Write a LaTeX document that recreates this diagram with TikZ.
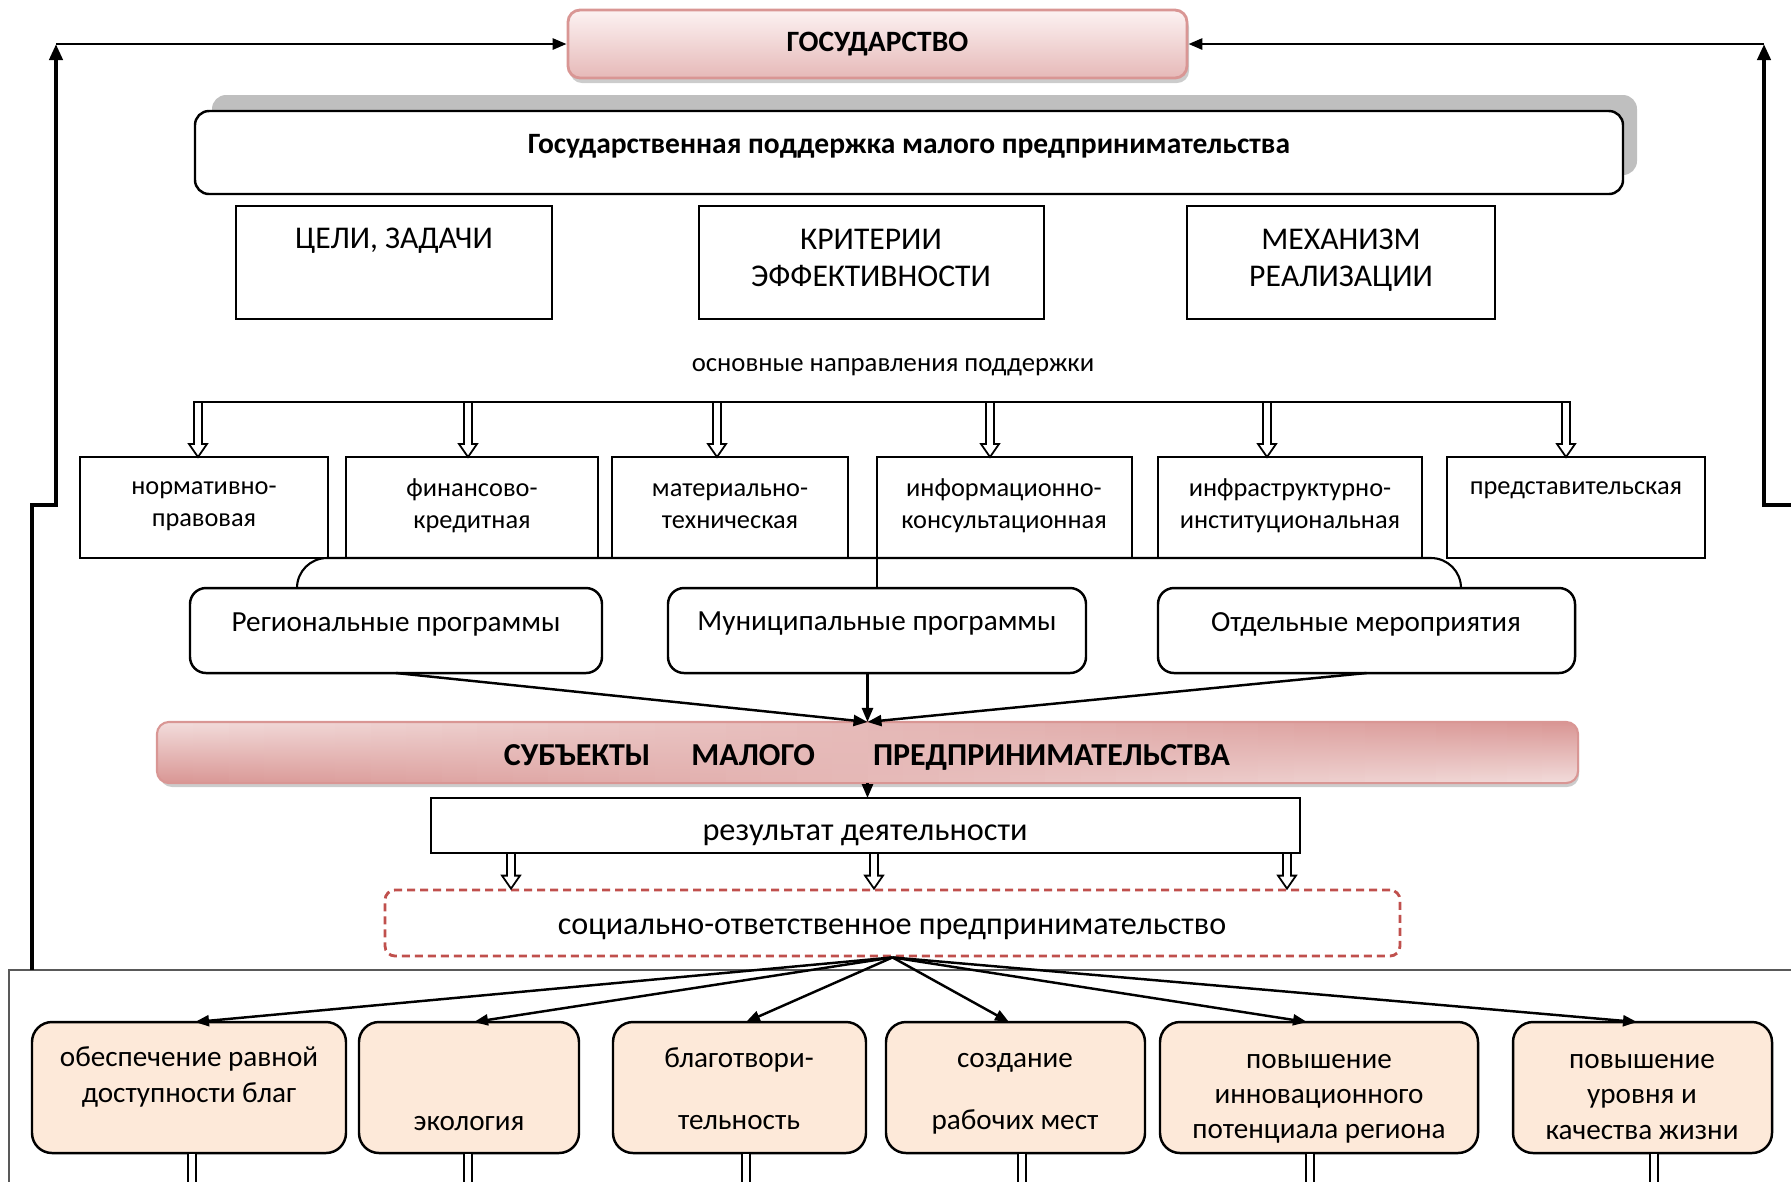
\documentclass[tikz,border=0pt]{standalone}
\usepackage{fontspec}
\setmainfont{Carlito}
\usetikzlibrary{positioning}
\usetikzlibrary{calc}
\usetikzlibrary{arrows.meta}
\usetikzlibrary{shadows}

\definecolor{rosedark}{HTML}{D99694}
\definecolor{roselight}{HTML}{F2DCDB}
\definecolor{statetop}{HTML}{FCF2F2}
\definecolor{statebot}{HTML}{E6B9B8}
\definecolor{peach}{HTML}{FDE9D9}
\definecolor{dashred}{HTML}{C0504D}
\definecolor{shadowgray}{HTML}{BFBFBF}
\definecolor{framegray}{HTML}{595959}

\tikzset{
  plainbox/.style={draw, line width=0.7pt, inner sep=0pt, outer sep=0pt},
  progbox/.style={plainbox, rounded corners=1.6mm},
  effectbox/.style={plainbox, rounded corners=2mm, fill=peach},
  supportbox/.style={plainbox, rounded corners=1.4mm, fill=white},
  supportshade/.style={fill=shadowgray, rounded corners=1.4mm, inner sep=0pt},
  statebox/.style={draw=rosedark, line width=0.8pt, rounded corners=1.2mm,
    top color=statetop, bottom color=statebot, inner sep=0pt,
    drop shadow={shadow xshift=0.2mm, shadow yshift=-0.5mm, fill=black!50, opacity=0.4}},
  subjbox/.style={line width=0.6pt, rounded corners=1.2mm, fill=roselight, inner sep=0pt,
    drop shadow={shadow xshift=0.2mm, shadow yshift=-0.5mm, fill=black!50, opacity=0.4}},
  socialbox/.style={draw=dashred, line width=0.8pt, dash pattern=on 0.8mm off 0.5mm,
    rounded corners=1mm, inner sep=0pt},
  framebox/.style={draw=framegray, line width=0.5pt, inner sep=0pt},
  hollow/.style={draw, line width=0.5pt, fill=white},
  link/.style={line width=0.7pt, -{Triangle[length=1.4mm, width=1.1mm]}},
  feedback/.style={line width=1.3pt, -{Triangle[length=1.6mm, width=1.3mm]}},
  boldtext/.style={font=\bfseries\fontsize{8.4pt}{10pt}\selectfont, inner sep=0pt},
  bigtext/.style={font=\fontsize{9pt}{10.5pt}\selectfont, align=center, inner sep=0pt},
  smalltext/.style={font=\fontsize{7.5pt}{9.1pt}\selectfont, align=center, inner sep=0pt},
  midtext/.style={font=\fontsize{8.3pt}{10pt}\selectfont, align=center, inner sep=0pt},
}

% hollow down arrow from #1 to #2 (same x)
\newcommand{\hollowarrow}[2]{%
  \draw[hollow] let \p1=(#1), \p2=(#2) in
    (\x1-0.4mm,\y1) -- (\x1-0.4mm,\y2+1.3mm) -- (\x1-0.9mm,\y2+1.3mm) -- (\x1,\y2)
    -- (\x1+0.9mm,\y2+1.3mm) -- (\x1+0.4mm,\y2+1.3mm) -- (\x1+0.4mm,\y1) -- cycle;}

\begin{document}
\begin{tikzpicture}[x=0.1mm, y=-0.1mm]
    \useasboundingbox (0,0) rectangle (1791,1181);
    \clip (0,0) rectangle (1791,1181);

    % bottom frame
    \node[framebox, minimum width=182.1mm, minimum height=26mm] (frame) at (919.5,1100) {};

    % top blocks
    \node[statebox, boldtext, minimum width=61.9mm, minimum height=6.8mm] (state) at (877.5,44) {ГОСУДАРСТВО};
    \node[supportshade, minimum width=142.5mm, minimum height=8mm] (supshade) at (924.5,135) {};
    \node[supportbox, minimum width=142.8mm, minimum height=8.3mm] (support) at (909,152.5) {};
    \node[boldtext] (support-t) at (909,146) {Государственная поддержка малого предпринимательства};

    % rectangular boxes
    \foreach \lft/\tp/\rt/\bt/\name in {236/206/552/319/goals, 699/206/1044/319/criteria,
            1187/206/1495/319/mechanism, 80/457/328/558/norm, 346/457/598/558/fin,
            612/457/848/558/mat, 877/457/1132/558/info, 1158/457/1422/558/infra,
            1447/457/1705/558/repr}
        \node[plainbox, minimum width={(\rt-\lft)*0.1mm}, minimum height={(\bt-\tp)*0.1mm}]
            (\name) at ({(\lft+\rt)/2},{(\tp+\bt)/2}) {};

    \foreach \name/\xpos/\ypos/\txt in {goals-t/394/241/{ЦЕЛИ, ЗАДАЧИ},
            criteria-t/871/258/{КРИТЕРИИ\\ЭФФЕКТИВНОСТИ}, mechanism-t/1341/260/{МЕХАНИЗМ\\РЕАЛИЗАЦИИ}}
        \node[bigtext] (\name) at (\xpos,\ypos) {\txt};

    \node[smalltext, font=\fontsize{7.6pt}{9.2pt}\selectfont] (directions) at (893,367) {основные направления поддержки};

    \foreach \name/\xpos/\ypos/\txt in {norm-t/204/506/{нормативно-\\правовая}, fin-t/472/506/{финансово-\\кредитная},
            mat-t/730/506/{материально-\\техническая}, info-t/1004/506/{информационно-\\консультационная},
            infra-t/1290/506/{инфраструктурно-\\институциональная}, repr-t/1576/490/{представительская}}
        \node[smalltext] (\name) at (\xpos,\ypos) {\txt};

    % directions bar
    \foreach \name/\xpos in {d1/198, d2/468, d3/717, d4/990, d5/1267, d6/1566}
        \coordinate (\name) at (\xpos,402);
    \draw[line width=0.6pt] (d1) -- (d6);
    \foreach \src/\dst in {d1/norm, d2/fin, d3/mat, d4/info, d5/infra, d6/repr}
        \hollowarrow{\src}{\src |- \dst.north};

    % programs
    \foreach \lft/\rt/\name in {190/602/reg, 668/1086/muni, 1158/1575/sep}
        \node[progbox, minimum width={(\rt-\lft)*0.1mm}, minimum height=8.5mm]
            (\name) at ({(\lft+\rt)/2},630.5) {};
    \foreach \name/\xpos/\txt in {reg-t/396/{Региональные программы}, muni-t/877/{Муниципальные программы},
            sep-t/1366/{Отдельные мероприятия}}
        \node[midtext] (\name) at (\xpos,624) {\txt};

    \coordinate (brL) at (297,588);
    \coordinate (brR) at (1461,588);
    \draw[line width=0.6pt, rounded corners=3mm] (brL) -- (brL |- norm.south) -- (brR |- norm.south) -- (brR);
    \draw[line width=0.6pt] (info.south west) -- (info.south west |- muni.north);

    % subjects
    \node[subjbox, minimum width=141.9mm, minimum height=5.9mm] (subj) at (867.5,752.5) {};
    \begin{scope}
        \clip[rounded corners=1.2mm] (subj.south west) rectangle (subj.north east);
        \foreach \i [evaluate=\i as \pct using int(100*\i/39)] in {0,...,39}
            \shade[top color=rosedark!\pct!roselight, bottom color=roselight!\pct!rosedark]
                ({158+\i*35.5},722) rectangle ({158+(\i+1)*35.5+1},783);
    \end{scope}
    \draw[draw=rosedark, line width=0.6pt, rounded corners=1.2mm] (subj.south west) rectangle (subj.north east);
    \node[boldtext, font=\bfseries\fontsize{9.1pt}{10pt}\selectfont] (subj-t) at (867,757)
        {СУБЪЕКТЫ\hspace{4.1mm}МАЛОГО\hspace{5.8mm}ПРЕДПРИНИМАТЕЛЬСТВА};
    \draw[link] (reg.south) -- (subj.north);
    \draw[link] (muni.south -| subj.north) -- (subj.north);
    \draw[link] (sep.south) -- (subj.north);

    \node[plainbox, minimum width=86.9mm, minimum height=5.5mm] (result) at (865.5,825.5) {};
    \node[midtext, font=\fontsize{9.2pt}{10pt}\selectfont] (result-t) at (865,835) {результат деятельности};
    \draw[link] (subj.south) -- (subj.south |- result.north);

    \node[socialbox, minimum width=101.5mm, minimum height=6.6mm] (social) at (892.5,923) {};
    \node[midtext, font=\fontsize{9.15pt}{10.5pt}\selectfont] (social-t) at (892,929)
        {социально-ответственное предпринимательство};
    \foreach \name/\xpos in {r1/511, r2/874, r3/1287}
        \coordinate (\name) at (\xpos,853);
    \foreach \src in {r1, r2, r3}
        \hollowarrow{\src}{\src |- social.north};

    % effects
    \foreach \lft/\rt/\name in {32/346/b1, 359/579/b2, 613/866/b3, 886/1145/b4, 1160/1478/b5, 1513/1772/b6}
        \node[effectbox, minimum width={(\rt-\lft)*0.1mm}, minimum height=13.1mm]
            (\name) at ({(\lft+\rt)/2},1087.5) {};
    \foreach \name/\xpos/\ypos/\txt in {b1-t/189/1077/{обеспечение равной\\доступности благ},
            b2-t/469/1123/{экология}, b3-t/739/1089/{благотвори-\\[2.7mm]тельность},
            b4-t/1015/1094/{создание\\[2.7mm]рабочих мест},
            b5-t/1319/1099/{повышение\\инновационного\\потенциала региона},
            b6-t/1642/1097/{повышение\\уровня и\\качества жизни}}
        \node[midtext, font=\fontsize{8.3pt}{10pt}\selectfont] (\name) at (\xpos,\ypos) {\txt};

    \foreach \dst/\dx in {b1/6, b2/5, b3/6.5, b4/-6.5, b5/-12, b6/-5.5}
        \draw[link] (social.south) -- ($(\dst.north)+(\dx,0)$);
    \foreach \src/\dx in {b1/3, b2/-1, b3/6.5, b4/6.5, b5/-9, b6/11.5}
        \hollowarrow{$(\src.south)+(\dx,0)$}{$(\src.south)+(\dx,50)$};

    % feedback lines
    \coordinate (fbL0) at (32,970);
    \coordinate (fbL1) at (32,505);
    \coordinate (fbL2) at (56,505);
    \coordinate (fbL3) at (56,44);
    \draw[feedback] (fbL0) -- (fbL1) -- (fbL2) -- (fbL3);
    \draw[link, line width=0.8pt] (fbL3) -- (state.west);
    \coordinate (fbR0) at (1800,505);
    \coordinate (fbR1) at (1764,505);
    \coordinate (fbR2) at (1764,44);
    \draw[feedback] (fbR0) -- (fbR1) -- (fbR2);
    \draw[link, line width=0.8pt] (fbR2) -- (state.east);

\end{tikzpicture}
\end{document}
